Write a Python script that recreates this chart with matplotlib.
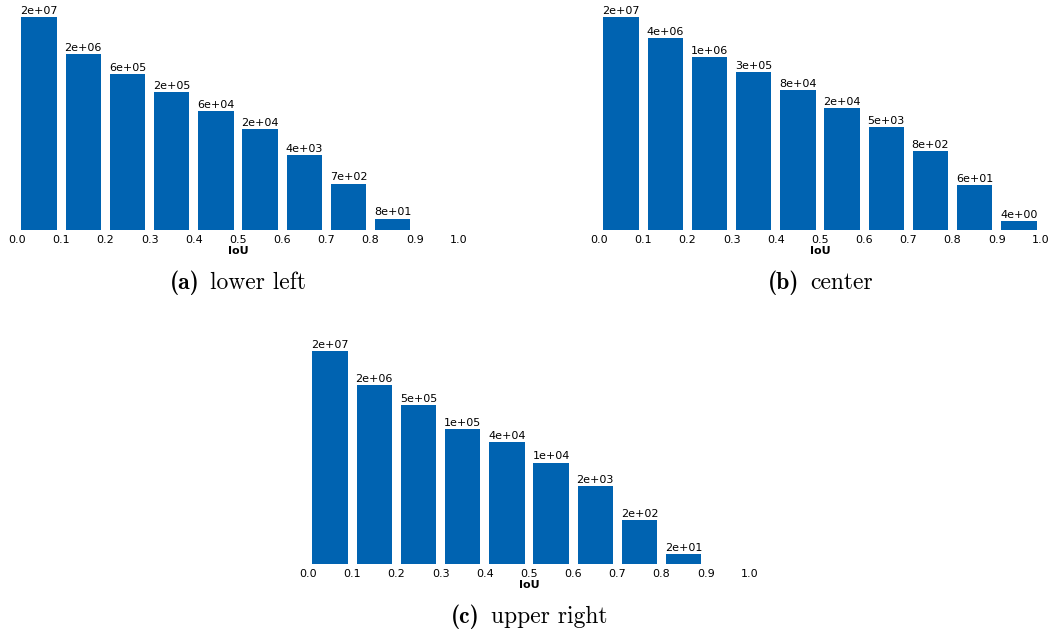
import os
import numpy as np
import matplotlib
import matplotlib.pyplot as plt
from matplotlib.font_manager import FontProperties

# Computer Modern faces shipped with matplotlib, for the captions
ttf_dir = os.path.join(matplotlib.get_data_path(), 'fonts', 'ttf')
cm_bold = FontProperties(fname=os.path.join(ttf_dir, 'cmb10.ttf'), size=17)
cm_roman = FontProperties(fname=os.path.join(ttf_dir, 'cmr10.ttf'), size=17)

# IoU histogram counts per bin (bins of width 0.1)
bin_left = [0.0, 0.1, 0.2, 0.3, 0.4, 0.5, 0.6, 0.7, 0.8, 0.9]
counts_lower_left = [2e7, 2e6, 6e5, 2e5, 6e4, 2e4, 4e3, 7e2, 8e1]
counts_center = [2e7, 4e6, 1e6, 3e5, 8e4, 2e4, 5e3, 8e2, 6e1, 4e0]
counts_upper_right = [2e7, 2e6, 5e5, 1e5, 4e4, 1e4, 2e3, 2e2, 2e1]
tick_vals = [0.0, 0.1, 0.2, 0.3, 0.4, 0.5, 0.6, 0.7, 0.8, 0.9, 1.0]

W, H = 1053, 633
fig = plt.figure(figsize=(W / 100, H / 100), dpi=100)
color = '#0063B1'


def hist_panel(left_px, top_px, counts, tag, caption):
    width_px, height_px = 442, 213
    ax = fig.add_axes([left_px / W, (H - top_px - height_px) / H,
                       width_px / W, height_px / H])
    n = len(counts)
    x = np.array(bin_left[:n]) + 0.05
    ymin = min(counts) / 2
    ax.set_yscale('log')
    ax.bar(x, np.array(counts) - ymin, bottom=ymin, width=0.08, color=color)
    for xi, c in zip(x, counts):
        ax.text(xi, c * 1.08, '%.0e' % c, ha='center', va='bottom',
                fontsize=8, clip_on=False)
    ax.set_xlim(0, 1)
    ax.set_ylim(ymin, max(counts))
    ax.set_xticks(tick_vals)
    ax.set_xticklabels(['%.1f' % t for t in tick_vals])
    ax.tick_params(axis='x', length=0, labelsize=8, pad=3.5)
    ax.set_yticks([])
    ax.yaxis.set_minor_locator(plt.NullLocator())
    for s in ax.spines.values():
        s.set_visible(False)
    ax.set_xlabel('IoU', fontsize=8, fontweight='bold', labelpad=1)

    # caption: bold tag followed by roman text, centred under the panel
    cx = left_px + width_px / 2
    cy = (H - top_px - height_px - 53) / H
    t1 = fig.text(0, cy, tag, ha='left', va='center', fontproperties=cm_bold)
    t2 = fig.text(0, cy, caption, ha='left', va='center', fontproperties=cm_roman)
    r = fig.canvas.get_renderer()
    w1 = t1.get_window_extent(r).width
    w2 = t2.get_window_extent(r).width
    gap = 11
    x0 = cx - (w1 + gap + w2) / 2
    t1.set_x(x0 / W)
    t2.set_x((x0 + w1 + gap) / W)
    return ax


hist_panel(17, 17, counts_lower_left, '(a)', 'lower left')
hist_panel(599, 17, counts_center, '(b)', 'center')
hist_panel(308, 351, counts_upper_right, '(c)', 'upper right')

fig.savefig('out.png', dpi=100)
